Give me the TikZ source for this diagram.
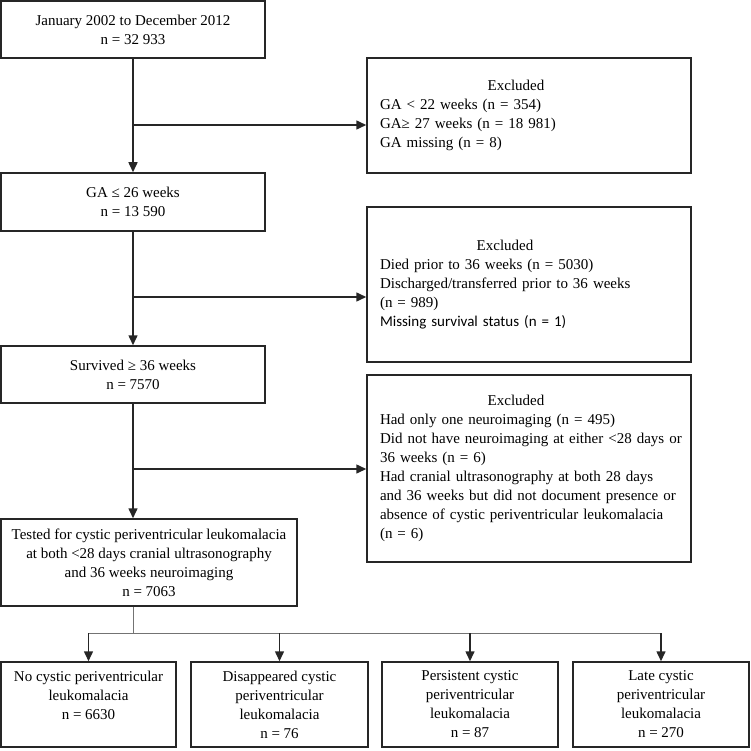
\documentclass[tikz,border=0pt]{standalone}
\usepackage{fontspec}
\setmainfont{Liberation Serif}
\newfontfamily\carlito{Carlito}
\usetikzlibrary{arrows.meta}

\begin{document}
\begin{tikzpicture}[x=1pt,y=-1pt,
  font=\fontsize{15}{19}\selectfont,
  box/.style={draw=black!85,line width=1.5pt,align=center,inner sep=0pt},
  exbox/.style={draw=black!85,line width=1.5pt,align=left,text width=298pt,
    inner xsep=13pt,inner ysep=0pt,minimum width=324pt},
  arr/.style={-{Triangle[length=10pt,width=9pt]},line width=1.5pt,draw=black!85},
  split/.style={line width=1pt,draw=black!55}]

\useasboundingbox (0,0) rectangle (750,751);

\node[box,minimum width=264,minimum height=57] (start) at (133,29.5)
  {January 2002 to December 2012\\n = 32 933};
\node[box,minimum width=264,minimum height=58] (ga) at (133,202)
  {GA ≤ 26 weeks\\n = 13 590};
\node[box,minimum width=264,minimum height=57] (surv) at (133,374.5)
  {Survived ≥ 36 weeks\\n = 7570};
\node[box,minimum width=296,minimum height=87] (tested) at (149,562.5)
  {Tested for cystic periventricular leukomalacia\\at both <28 days cranial ultrasonography\\and 36 weeks neuroimaging\\n = 7063};

\node[exbox,minimum height=115] (ex1) at (529,115.5)
  {\makebox[272pt]{Excluded}\\GA < 22 weeks (n = 354)\\GA≥ 27 weeks (n = 18 981)\\GA missing (n = 8)};
\node[exbox,minimum height=155] (ex2) at (529,284.5)
  {\makebox[250pt]{Excluded}\\Died prior to 36 weeks (n = 5030)\\Discharged/transferred prior to 36 weeks\\(n = 989)\\{\carlito Missing survival status (n = 1)}};
\node[exbox,minimum height=187] (ex3) at (529,468.5)
  {\makebox[272pt]{Excluded}\\Had only one neuroimaging (n = 495)\\\mbox{Did not have neuroimaging at either <28 days or}\\36 weeks (n = 6)\\Had cranial ultrasonography at both 28 days\\and 36 weeks but did not document presence or\\absence of cystic periventricular leukomalacia\\(n = 6)};

\node[box,minimum width=175,minimum height=85] (nocpvl) at (88.5,704.5)
  {No cystic periventricular\\leukomalacia\\n = 6630\\\mbox{}};
\node[box,minimum width=177,minimum height=85] (gone) at (279.5,704.5)
  {Disappeared cystic\\periventricular\\leukomalacia\\n = 76};
\node[box,minimum width=176,minimum height=85] (persist) at (470,704.5)
  {Persistent cystic\\periventricular\\leukomalacia\\n = 87};
\node[box,minimum width=176,minimum height=85] (late) at (661,704.5)
  {Late cystic\\periventricular\\leukomalacia\\n = 270};

\coordinate (b1) at (133,125);
\coordinate (b2) at (133,297);
\coordinate (b3) at (133,469);
\coordinate (fork) at (133,633);

\draw[arr] (start) -- (ga);
\draw[arr] (ga) -- (surv);
\draw[arr] (surv.south) -- (surv.south |- tested.north);
\draw[arr] (b1) -- (b1 -| ex1.west);
\draw[arr] (b2) -- (b2 -| ex2.west);
\draw[arr] (b3) -- (b3 -| ex3.west);

\draw[split] (tested.south -| fork) -- (fork);
\draw[split] (fork -| nocpvl.north) -- (fork -| late.north);
\draw[arr] (fork -| nocpvl.north) -- (nocpvl.north);
\draw[arr] (fork -| gone.north) -- (gone.north);
\draw[arr] (fork -| persist.north) -- (persist.north);
\draw[arr] (fork -| late.north) -- (late.north);
\end{tikzpicture}
\end{document}
